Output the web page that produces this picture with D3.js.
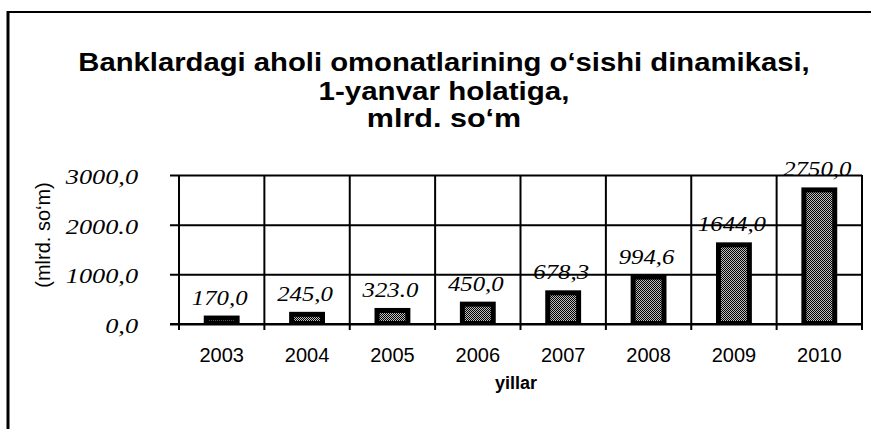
<!DOCTYPE html>
<html><head><meta charset="utf-8">
<script src="https://cdn.jsdelivr.net/npm/d3@7"></script>
<style>html,body{margin:0;padding:0;background:#fff;} svg{display:block}</style>
</head><body>
<script>
const years = ["2003","2004","2005","2006","2007","2008","2009","2010"];
const deposits = [170.0, 245.0, 323.0, 450.0, 678.3, 994.6, 1644.0, 2750.0];
const valueLabels = ["170,0","245,0","323.0","450,0","678,3","994,6","1644,0","2750,0"];
const yTicks = [0, 1000, 2000, 3000];
const yTickLabels = ["0,0","1000,0","2000.0","3000,0"];
const titleLines = ["Banklardagi aholi omonatlarining o‘sishi dinamikasi,", "1-yanvar holatiga,", "mlrd.  so‘m"];
const yAxisTitle = "(mlrd. so‘m)";
const xAxisTitle = "yillar";

const W = 871, H = 429;
const SANS = "Arial, 'Liberation Sans', Helvetica, sans-serif";
const SERIF = "'Times New Roman', 'Liberation Serif', Times, serif";

const svg = d3.select("body").append("svg").attr("width", W).attr("height", H);
svg.append("rect").attr("width", W).attr("height", H).attr("fill", "#fff");

function stretch(sel, k) {
  sel.each(function () {
    const L = this.getComputedTextLength();
    d3.select(this).attr("textLength", L * k).attr("lengthAdjust", "spacingAndGlyphs");
  });
}

// pattern for bar interior (stipple)
const defs = svg.append("defs");
const pat = defs.append("pattern").attr("id", "stip").attr("width", 2).attr("height", 2)
  .attr("patternUnits", "userSpaceOnUse");
pat.append("rect").attr("width", 2).attr("height", 2).attr("fill", "#bdbdbd");
pat.append("rect").attr("width", 1).attr("height", 1).attr("fill", "#000");
pat.append("rect").attr("x", 1).attr("y", 1).attr("width", 1).attr("height", 1).attr("fill", "#000");

// outer frame
svg.append("line").attr("x1", 7).attr("x2", W).attr("y1", 12).attr("y2", 12)
  .attr("stroke", "#000").attr("stroke-width", 2);
svg.append("line").attr("x1", 8).attr("x2", 8).attr("y1", 11).attr("y2", H)
  .attr("stroke", "#000").attr("stroke-width", 3);

// scales
const x = d3.scaleBand().domain(years).range([179, 862]).padding(0);
const y = d3.scaleLinear().domain([0, 3000]).range([324, 175]);

// title
const title = svg.append("g");
const titleY = [71, 100, 127];
const titleK = [1.17, 1.18, 1.22];
titleLines.forEach((t, i) => {
  const tx = title.append("text").attr("x", 444).attr("y", titleY[i])
    .attr("text-anchor", "middle").attr("font-family", SANS).attr("font-weight", "bold")
    .attr("font-size", 25).attr("fill", "#000").text(t);
  stretch(tx, titleK[i]);
});

// horizontal gridlines + y tick labels
const yAxis = d3.axisLeft(y).tickValues(yTicks).tickSize(-(862 - 170)).tickPadding(32)
  .tickFormat((d, i) => yTickLabels[i]);
const gy = svg.append("g").attr("transform", "translate(170,0)").call(yAxis);
gy.select(".domain").remove();
gy.selectAll(".tick line").attr("stroke", "#000").attr("stroke-width", 2);
gy.selectAll(".tick text").attr("font-family", SERIF).attr("font-style", "italic")
  .attr("font-size", 21).attr("fill", "#000").attr("dy", "0.4em");
stretch(gy.selectAll(".tick text"), 1.25);

// vertical gridlines at band boundaries
const bounds = years.map(d => x(d)).concat([x.range()[1]]);
svg.append("g").selectAll("line").data(bounds).join("line")
  .attr("x1", d => d).attr("x2", d => d)
  .attr("y1", y(3000)).attr("y2", y(0) + 6)
  .attr("stroke", "#000").attr("stroke-width", 2);

// bars
const barW = x.bandwidth() * 0.42;
const bars = svg.append("g");
bars.selectAll("rect.outer").data(deposits).join("rect").attr("class", "outer")
  .attr("x", (d, i) => x(years[i]) + x.bandwidth() / 2 - barW / 2)
  .attr("y", d => y(d)).attr("width", barW).attr("height", d => y(0) - y(d))
  .attr("fill", "#000");
bars.selectAll("rect.inner").data(deposits).join("rect").attr("class", "inner")
  .attr("x", (d, i) => x(years[i]) + x.bandwidth() / 2 - barW / 2 + 5)
  .attr("y", d => y(d) + 5).attr("width", barW - 10)
  .attr("height", d => Math.max(0, y(0) - y(d) - 8))
  .attr("fill", "url(#stip)");
// redraw baseline on top
svg.append("line").attr("x1", 170).attr("x2", 862).attr("y1", y(0)).attr("y2", y(0))
  .attr("stroke", "#000").attr("stroke-width", 2);

// value labels
const vl = svg.append("g").selectAll("text").data(deposits).join("text")
  .attr("x", (d, i) => x(years[i]) + x.bandwidth() / 2 - 2)
  .attr("y", d => y(d) - 11)
  .attr("text-anchor", "middle").attr("font-family", SERIF).attr("font-style", "italic")
  .attr("font-size", 21).attr("fill", "#000")
  .text((d, i) => valueLabels[i]);
stretch(vl, 1.18);

// x labels
svg.append("g").selectAll("text").data(years).join("text")
  .attr("x", d => x(d) + x.bandwidth() / 2)
  .attr("y", 362)
  .attr("text-anchor", "middle").attr("font-family", SANS).attr("font-size", 20)
  .attr("fill", "#000").text(d => d);

// axis titles
svg.append("text").attr("x", 516).attr("y", 389)
  .attr("text-anchor", "middle").attr("font-family", SANS).attr("font-weight", "bold")
  .attr("font-size", 18).attr("fill", "#000").text(xAxisTitle);

svg.append("text").attr("transform", "translate(43,235) rotate(-90)")
  .attr("text-anchor", "middle").attr("dominant-baseline", "central")
  .attr("font-family", SANS).attr("font-size", 20).attr("fill", "#000").text(yAxisTitle);
</script>
</body></html>
